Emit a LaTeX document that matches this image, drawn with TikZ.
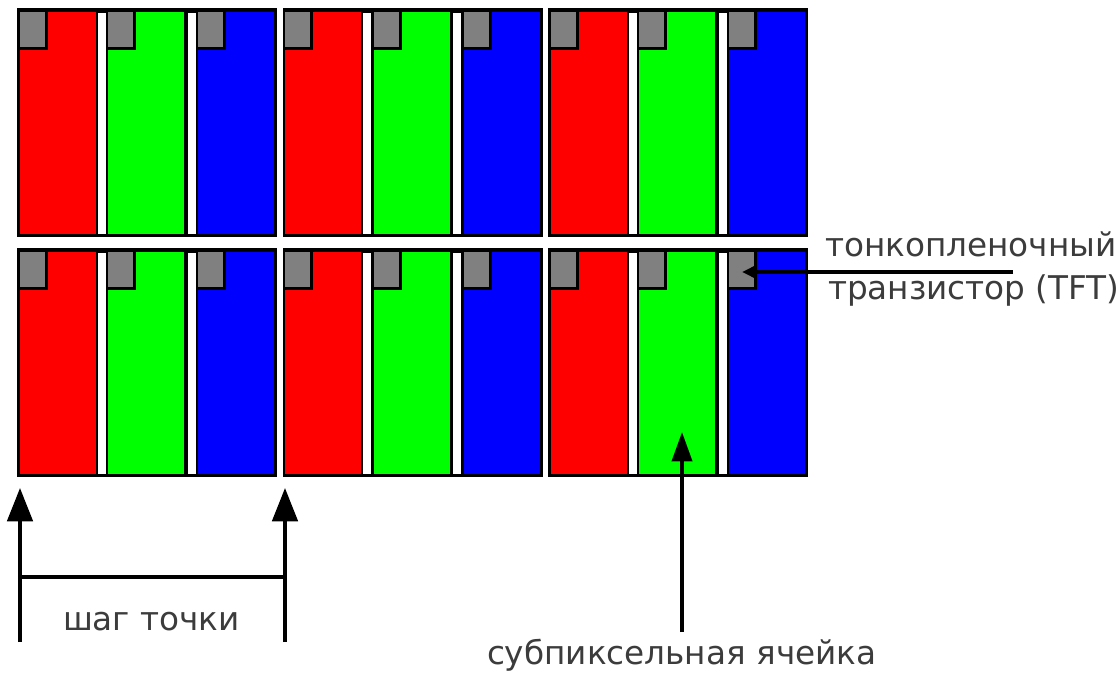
\documentclass[tikz,border=0pt]{standalone}
\usepackage{fontspec}
\setmainfont{DejaVu Sans}
\usetikzlibrary{arrows.meta}
\definecolor{cred}{RGB}{255,0,0}
\definecolor{cgreen}{RGB}{0,255,0}
\definecolor{cblue}{RGB}{0,0,255}
\definecolor{cgray}{RGB}{128,128,128}
\definecolor{ctext}{RGB}{60,60,60}
\begin{document}
\begin{tikzpicture}[x=0.75pt,y=-0.75pt,
  cell/.style={rectangle,inner sep=0,outer sep=0,anchor=north west,minimum width=57pt,minimum height=166.5pt},
  tft/.style={rectangle,inner sep=0,outer sep=0,anchor=north west,fill=cgray,minimum width=18.75pt,minimum height=26.25pt},
  label/.style={inner sep=0,outer sep=0,anchor=base west,text=ctext,font=\fontsize{24.5}{26}\selectfont},
  bigarrow/.style={line width=2.8pt,-{Triangle[length=25pt,width=19pt]}},
  subarrow/.style={line width=2.8pt,-{Triangle[length=22pt,width=15pt]}},
  tftarrow/.style={line width=2.8pt,-{Triangle[length=11pt,width=10pt]}},
  plain/.style={line width=2.6pt}]
\fill[white] (0,0) rectangle (1120,673);
\useasboundingbox (0,0) rectangle (1120,673);
\foreach \r/\T in {0/8,1/248}{
  \foreach \c/\L in {0/17,1/282.5,2/548}{
    \fill[black] (\L,\T) rectangle ++(260,229);
    \fill[white] (\L+80.5,\T+5) rectangle ++(8,221);
    \fill[white] (\L+170.5,\T+5) rectangle ++(8,221);
    \foreach \k/\dx/\col in {0/2.5/cred,1/91/cgreen,2/181/cblue}{
      \node[cell,fill=\col] (c\r\c\k) at (\L+\dx,\T+4) {};
      \fill[black] (\L+\dx,\T+4) rectangle ++(28,38);
      \node[tft] (t\r\c\k) at (\L+\dx,\T+4) {};
    }
  }
}
% labels
\node[label] (tft1) at (825,257) {тонкопленочный};
\node[label] (tft2) at (828,300) {транзистор (TFT)};
\node[label] (pitch) at (63,630) {шаг точки};
\node[label] (sub) at (487,664) {субпиксельная ячейка};
% TFT arrow
\coordinate (tftend) at (1013,272);
\coordinate (tfttip) at (742,272);
\draw[tftarrow] (tftend) -- (tfttip);
% pitch arrows
\coordinate (pl0) at (20,642);
\coordinate (pl1) at (20,488);
\coordinate (pr0) at (285,642);
\coordinate (pr1) at (285,488);
\coordinate (hl) at (20,577);
\coordinate (hr) at (285,577);
\draw[bigarrow] (pl0) -- (pl1);
\draw[bigarrow] (pr0) -- (pr1);
\draw[plain] (hl) -- (hr);
% subpixel arrow
\coordinate (s0) at (682,632);
\coordinate (s1) at (682,432);
\draw[subarrow] (s0) -- (s1);
\end{tikzpicture}
\end{document}
